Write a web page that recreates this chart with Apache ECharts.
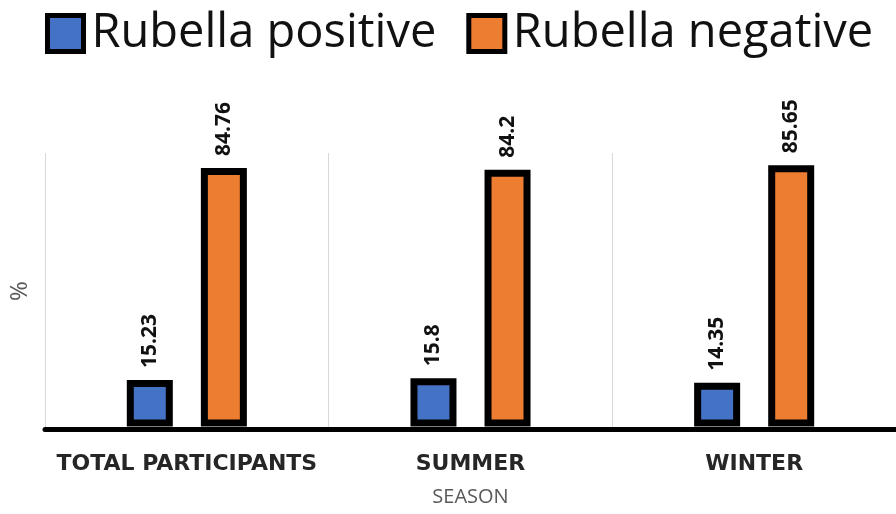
<!DOCTYPE html>
<html>
<head>
<meta charset="utf-8">
<script src="https://cdn.jsdelivr.net/npm/echarts@6/dist/echarts.min.js"></script>
<style>
	html, body { margin: 0; padding: 0; background: #fff; }
	#main { width: 896px; height: 514px; }
</style>
</head>
<body>
<div id="main"></div>
<script>
let chart = echarts.init(document.getElementById('main'));

// categories and values
let seasons = ['TOTAL PARTICIPANTS', 'SUMMER', 'WINTER'];
let positive = [15.23, 15.8, 14.35];
let negative = [84.76, 84.2, 85.65];

let labelStyle = {
	show: true,
	position: 'top',
	rotate: 90,
	align: 'left',
	verticalAlign: 'middle',
	distance: 12,
	fontFamily: 'Open Sans',
	fontWeight: 'bold',
	fontSize: 21,
	color: '#111'
};

option = {
	animation: false,
	textStyle: { fontFamily: 'Open Sans' },
	legend: {
		top: 10,
		left: 45,
		padding: 0,
		icon: 'rect',
		itemWidth: 36,
		itemHeight: 36,
		itemGap: 30,
		itemStyle: { borderColor: '#000', borderWidth: 5 },
		textStyle: { fontSize: 47, color: '#111', fontFamily: 'Open Sans', padding: [0, 0, 0, 3] },
		data: ['Rubella positive', 'Rubella negative']
	},
	grid: {
		left: 45,
		top: 153,
		width: 858,
		height: 276
	},
	xAxis: {
		type: 'category',
		data: seasons,
		name: 'SEASON',
		nameLocation: 'middle',
		nameGap: 58,
		nameTextStyle: { fontSize: 20, color: '#595959' },
		axisLine: { onZero: false, lineStyle: { color: '#000', width: 5 } },
		axisTick: { show: false },
		axisLabel: { interval: 0, fontSize: 22, fontWeight: 'bold', fontFamily: 'DejaVu Sans', color: '#262626', margin: 24 },
		splitLine: { show: true, interval: 0, lineStyle: { color: '#d9d9d9', width: 1 } }
	},
	yAxis: [{
		type: 'value',
		min: -0.85,
		max: 89.7,
		name: '%',
		nameLocation: 'middle',
		nameGap: 13,
		nameRotate: 90,
		nameTextStyle: { fontSize: 24, color: '#595959' },
		axisLabel: { show: false },
		axisLine: { show: false },
		axisTick: { show: false },
		splitLine: { show: false }
	}],
	series: [{
		name: 'Rubella positive',
		type: 'bar',
		data: positive,
		barWidth: 46,
		barGap: '61%',
		itemStyle: { color: '#4472C4', borderColor: '#000', borderWidth: 7 },
		label: labelStyle
	}, {
		name: 'Rubella negative',
		type: 'bar',
		data: negative,
		barWidth: 46,
		itemStyle: { color: '#ED7D31', borderColor: '#000', borderWidth: 7 },
		label: labelStyle
	}]
};

chart.setOption(option, true);
</script>
</body>
</html>
